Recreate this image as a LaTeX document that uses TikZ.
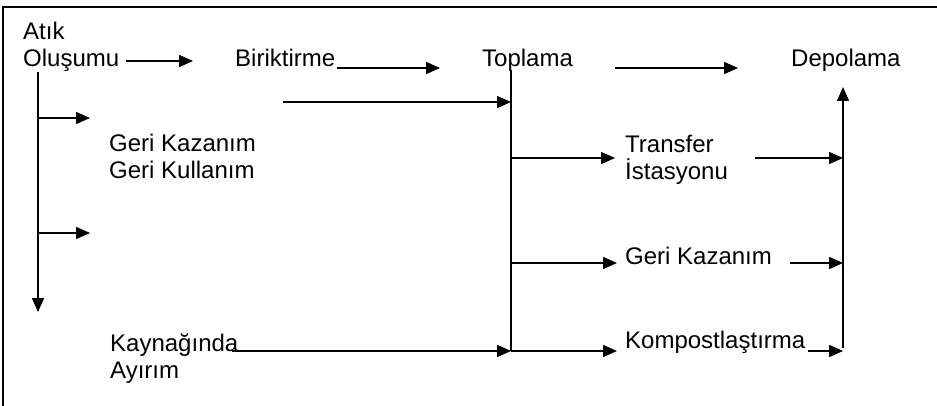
\documentclass[tikz,border=0pt]{standalone}
\usepackage{fontspec}
\setmainfont{Liberation Sans}
\usetikzlibrary{arrows.meta}
\begin{document}
\begin{tikzpicture}[x=1pt,y=-1pt,
  lbl/.style={anchor=base west, inner sep=0pt, font=\fontsize{24}{27}\selectfont, align=left},
  flow/.style={line width=1.5pt, -{Triangle[length=14pt,width=12pt]}},
  wire/.style={line width=1.5pt}]
\useasboundingbox (0,0) rectangle (937,406);
% page frame (top and left edges)
\draw[line width=2pt] (3,406) -- (3,7) -- (937,7);

% labels (two-line labels are placed by the baseline of their last line)
\node[lbl] (olus) at (23,67) {Atık\\Oluşumu};
\node[lbl] (birik) at (235,67) {Biriktirme};
\node[lbl] (topl) at (482,67) {Toplama};
\node[lbl] (depo) at (791,67) {Depolama};
\node[lbl] (gkg) at (109,179) {Geri Kazanım\\Geri Kullanım};
\node[lbl] (trans) at (625,180) {Transfer\\İstasyonu};
\node[lbl] (gk) at (625,264) {Geri Kazanım};
\node[lbl] (komp) at (625,348) {Kompostlaştırma};
\node[lbl] (kayn) at (110,378) {Kaynağında\\Ayırım};

% collector lines
\coordinate (oTop) at (38,72);
\coordinate (oBot) at (38,312);
\coordinate (tTop) at (511,70);
\coordinate (tBot) at (511,351);
\coordinate (dTop) at (843,87);
\coordinate (dBot) at (843,348);

% free arrow ends
\coordinate (a1s) at (126,61);  \coordinate (a1e) at (193,61);
\coordinate (a2s) at (337,68);  \coordinate (a2e) at (440,68);
\coordinate (a3s) at (615,68);  \coordinate (a3e) at (738,68);
\coordinate (a4s) at (283,102);
\coordinate (kS)  at (232,351);
\coordinate (b1e) at (90,118);
\coordinate (b2e) at (90,233);
\coordinate (tr1) at (615,158);
\coordinate (gk1) at (617,263);
\coordinate (ko1) at (617,351);
\coordinate (tr2) at (755,158);
\coordinate (gk2) at (790,263);
\coordinate (ko2) at (808,351);

% main row
\draw[flow] (a1s) -- (a1e);
\draw[flow] (a2s) -- (a2e);
\draw[flow] (a3s) -- (a3e);

% left branch from Oluşumu
\draw[flow] (oTop) -- (oBot);
\draw[flow] (oTop |- b1e) -- (b1e);
\draw[flow] (oTop |- b2e) -- (b2e);

% Toplama collector
\draw[wire] (tTop) -- (tBot);
\draw[flow] (a4s) -- (tTop |- a4s);
\draw[flow] (kS) -- (tBot);
\draw[flow] (tTop |- tr1) -- (tr1);
\draw[flow] (tTop |- gk1) -- (gk1);
\draw[flow] (tBot) -- (ko1);

% Depolama collector
\draw[flow] (dBot) -- (dTop);
\draw[flow] (tr2) -- (dTop |- tr2);
\draw[flow] (gk2) -- (dTop |- gk2);
\draw[flow] (ko2) -- (dTop |- ko2);
\end{tikzpicture}
\end{document}
